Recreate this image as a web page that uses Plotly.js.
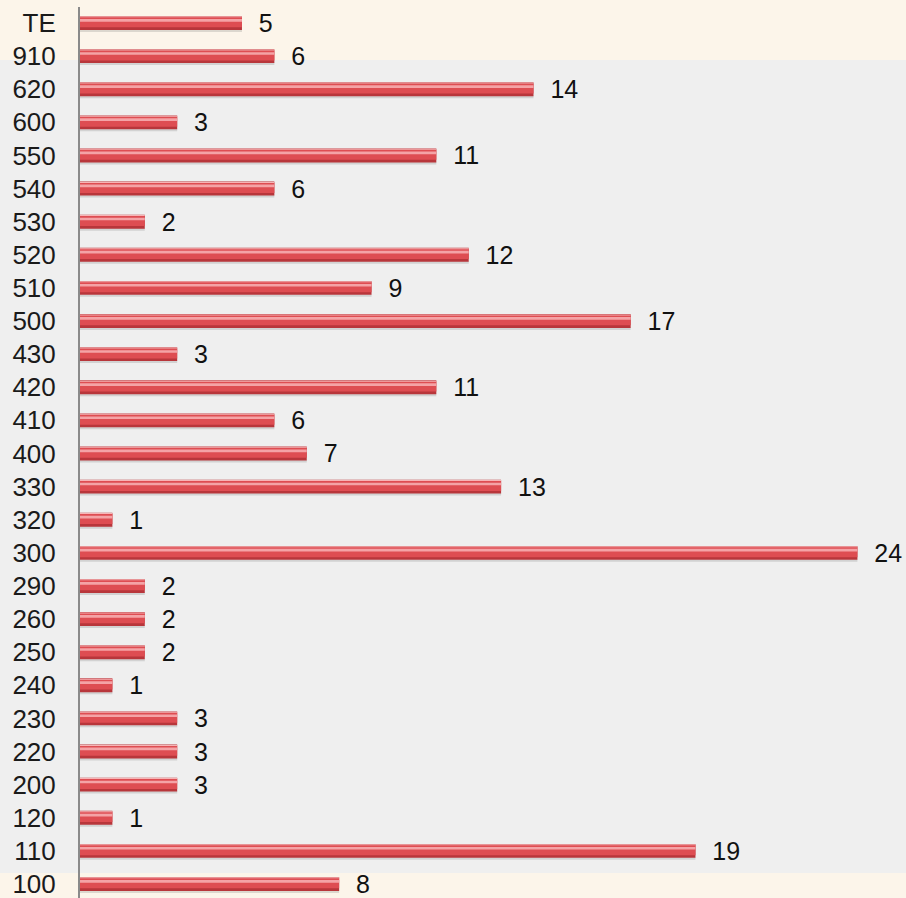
<!DOCTYPE html>
<html>
<head>
<meta charset="utf-8">
<script src="https://cdn.plot.ly/plotly-3.0.1.min.js"></script>
<style>html,body{margin:0;padding:0;background:#fcf5ea;}#chart{width:906px;height:898px;}</style>
</head>
<body>
<div id="chart"></div>
<script>
const categories = ["100","110","120","200","220","230","240","250","260","290","300","320","330","400","410","420","430","500","510","520","530","540","550","600","620","910","TE"];
const values = [8,19,1,3,3,3,1,2,2,2,24,1,13,7,6,11,3,17,9,12,2,6,11,3,14,6,5];

const nb = '\u00a0\u00a0';
const base = {type:'bar', orientation:'h', x:values, y:categories, hoverinfo:'skip', cliponaxis:false};
const traces = [
  Object.assign({}, base, {marker:{color:'rgba(110,110,110,0.22)', line:{width:0}}, offset:-0.27, width:0.08}),
  Object.assign({}, base, {marker:{color:'#b8363b', line:{width:0}}, offset:-0.21, width:0.42,
    text: values.map(v => nb + v), textposition:'outside', constraintext:'none',
    textfont:{family:'Liberation Sans, Arial, sans-serif', size:25, color:'#111'}}),
  Object.assign({}, base, {marker:{color:'#de4d52', line:{width:0}}, offset:-0.13, width:0.31}),
  Object.assign({}, base, {marker:{color:'#f4a3a6', line:{width:0}}, offset:0.04, width:0.08}),
  Object.assign({}, base, {marker:{color:'#f7b4b6', line:{width:0}}, offset:0.17, width:0.03})
];

const layout = {
  width:906, height:898,
  margin:{l:80, r:0, t:7, b:0, pad:0},
  paper_bgcolor:'#fcf5ea',
  plot_bgcolor:'rgba(0,0,0,0)',
  barmode:'overlay',
  showlegend:false,
  xaxis:{range:[0,25.5], visible:false, showgrid:false, zeroline:false, fixedrange:true},
  yaxis:{type:'category', categoryorder:'array', categoryarray:categories, range:[-0.423,26.483],
    showline:true, linecolor:'#8a8a8a', linewidth:2, showgrid:false, zeroline:false,
    ticks:'', ticklabelstandoff:17,
    tickfont:{family:'Liberation Sans, Arial, sans-serif', size:26, color:'#1a1a1a'}},
  shapes:[
    {type:'rect', xref:'paper', yref:'y', x0:-0.2, x1:1.05, y0:0.33, y1:24.88,
     fillcolor:'#efefef', line:{width:0}, layer:'below'}
  ]
};
Plotly.newPlot('chart', traces, layout, {staticPlot:true, displayModeBar:false});
</script>
</body>
</html>
